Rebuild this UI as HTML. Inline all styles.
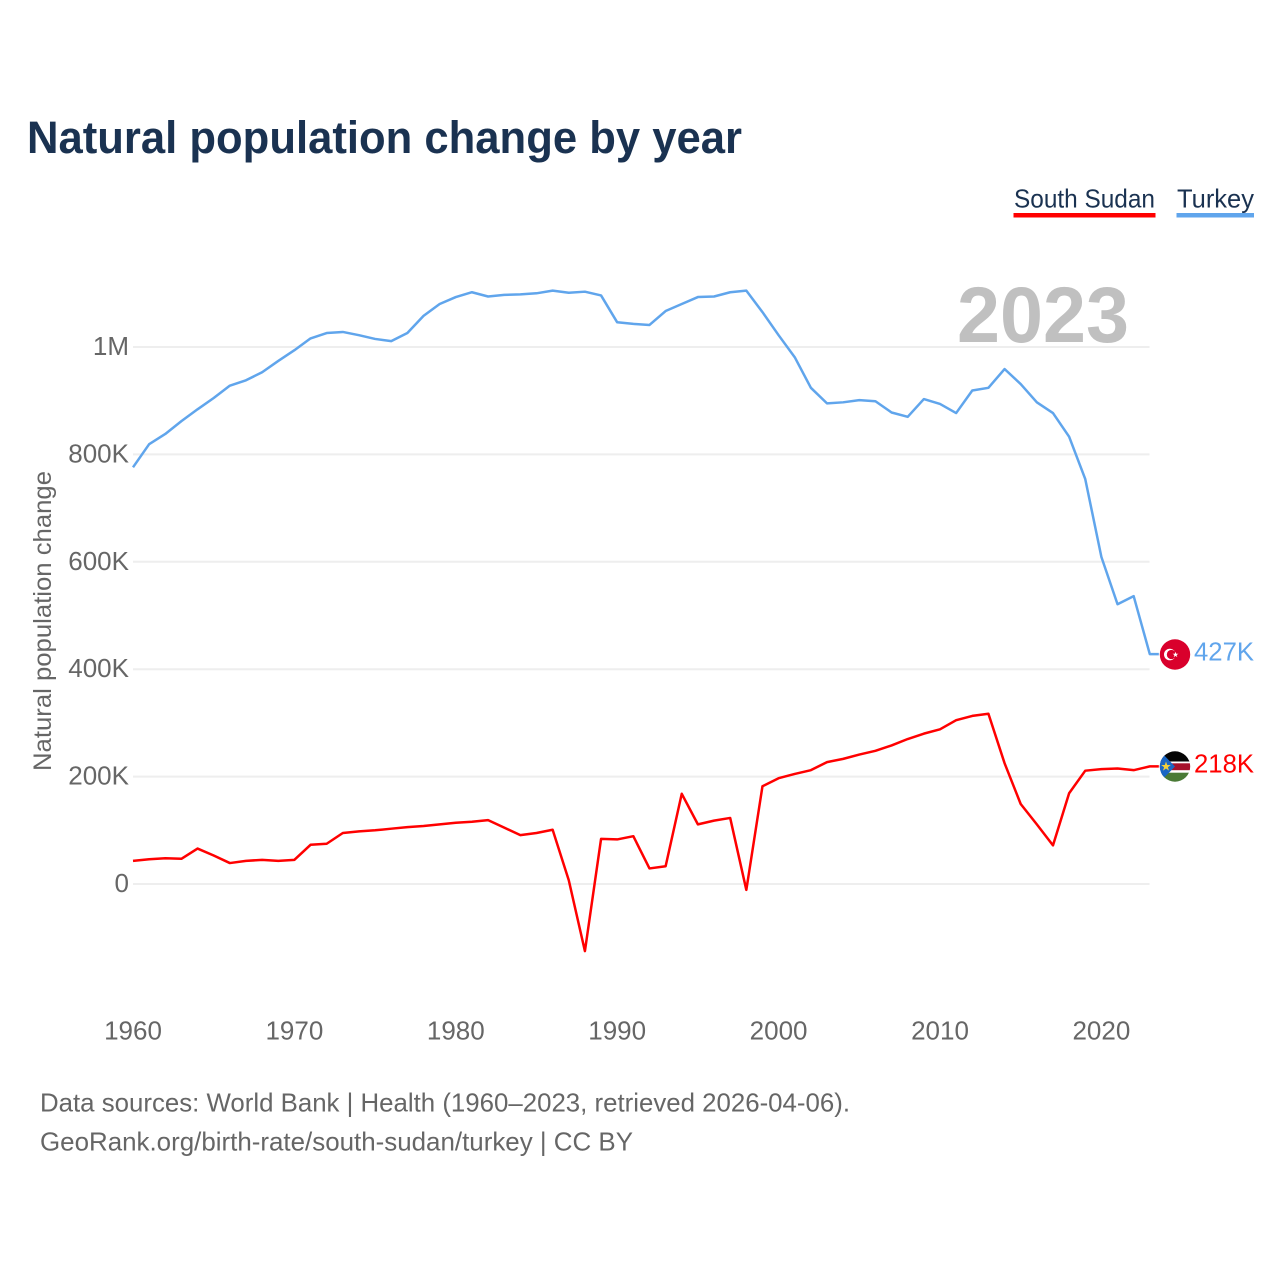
<!DOCTYPE html>
<html lang="en">
<head>
<meta charset="utf-8">
<title>Natural population change by year</title>
<style>
html,body{margin:0;padding:0;background:#fff;width:1280px;height:1280px;overflow:hidden}
svg{display:block;font-family:"Liberation Sans",sans-serif}
</style>
</head>
<body>
<svg id="chart" width="1280" height="1280" viewBox="0 0 1280 1280" xmlns="http://www.w3.org/2000/svg">
  <defs>
    <clipPath id="flag-clip-tr"><circle cx="1175" cy="654.5" r="15.2"/></clipPath>
    <clipPath id="flag-clip-ss"><circle cx="1175" cy="766.5" r="15.2"/></clipPath>
  </defs>
  <text x="27" y="153" font-size="45" font-weight="700" fill="#1a3251" textLength="715" lengthAdjust="spacingAndGlyphs">Natural population change by year</text>

  <text x="1014" y="207.5" font-size="26" fill="#1a3251" textLength="141" lengthAdjust="spacingAndGlyphs">South Sudan</text>
  <rect x="1013.5" y="213" width="142" height="4.5" fill="#ff0000"/>
  <text x="1177" y="207.5" font-size="26" fill="#1a3251" textLength="77" lengthAdjust="spacingAndGlyphs">Turkey</text>
  <rect x="1176.5" y="213" width="77.5" height="4.5" fill="#60a5ec"/>

  <g id="grid"></g>
  <g id="y-ticks"></g>
  <g id="x-ticks"></g>

  <text x="957" y="342" font-size="79" font-weight="700" fill="#c0c0c0" textLength="172" lengthAdjust="spacingAndGlyphs">2023</text>

  <text transform="translate(51,771) rotate(-90)" font-size="25" fill="#666666" textLength="300" lengthAdjust="spacingAndGlyphs">Natural population change</text>

  <g id="series"></g>

  <g clip-path="url(#flag-clip-tr)">
    <rect x="1158" y="637" width="34" height="36" fill="#d9002c"/>
    <circle cx="1169.8" cy="654.5" r="5.8" fill="#ffffff"/>
    <circle cx="1171.4" cy="654.5" r="4.6" fill="#d9002c"/>
    <polygon points="1175.5,651.7 1176.2,653.8 1178.4,653.8 1176.6,655 1177.3,657.1 1175.5,655.9 1173.7,657.1 1174.4,655 1172.6,653.8 1174.8,653.8" fill="#ffffff"/>
  </g>
  <g clip-path="url(#flag-clip-ss)">
    <rect x="1158" y="750" width="34" height="12" fill="#050505"/>
    <rect x="1158" y="761.5" width="34" height="2" fill="#ffffff"/>
    <rect x="1158" y="763.3" width="34" height="7" fill="#a6122c"/>
    <rect x="1158" y="770.3" width="34" height="2.4" fill="#ffffff"/>
    <rect x="1158" y="772.7" width="34" height="11" fill="#4a7a36"/>
    <polygon points="1158,749 1175,766.5 1158,784" fill="#1a66c4"/>
    <polygon points="1166,761.5 1167.2,765 1170.8,765 1167.9,767.2 1169,770.6 1166,768.5 1163,770.6 1164.1,767.2 1161.2,765 1164.8,765" fill="#f2cf3a"/>
  </g>

  <text x="1194" y="660.5" font-size="26" fill="#60a5ec" textLength="60" lengthAdjust="spacingAndGlyphs">427K</text>
  <text x="1194" y="772.5" font-size="26" fill="#ff0000" textLength="60" lengthAdjust="spacingAndGlyphs">218K</text>

  <text x="40" y="1111.5" font-size="26" fill="#666666" textLength="810" lengthAdjust="spacingAndGlyphs">Data sources: World Bank | Health (1960–2023, retrieved 2026-04-06).</text>
  <text x="40" y="1150.5" font-size="26" fill="#666666" textLength="593" lengthAdjust="spacingAndGlyphs">GeoRank.org/birth-rate/south-sudan/turkey | CC BY</text>
</svg>
<script>
const startYear = 1960;
const xTickYears = [1960, 1970, 1980, 1990, 2000, 2010, 2020];
const yTickValues = [0, 200, 400, 600, 800, 1000];
const yTickLabels = ["0", "200K", "400K", "600K", "800K", "1M"];
const turkeyValues = [776, 819, 838, 862, 884, 905, 928, 938, 953, 974, 994, 1016, 1026, 1028, 1022, 1015, 1011, 1026, 1058, 1080, 1093, 1102, 1094, 1097, 1098, 1100, 1105, 1101, 1103, 1096, 1046, 1043, 1041, 1067, 1080, 1093, 1094, 1102, 1105, 1065, 1022, 981, 924, 895, 897, 901, 899, 878, 870, 903, 894, 877, 919, 924, 959, 931, 897, 877, 833, 754, 609, 521, 536, 428];
const southSudanValues = [43, 46, 48, 47, 66, 53, 39, 43, 45, 43, 45, 73, 75, 95, 98, 100, 103, 106, 108, 111, 114, 116, 119, 105, 91, 95, 101, 7, -125, 84, 83, 89, 29, 33, 168, 111, 118, 123, -11, 182, 197, 205, 212, 227, 233, 241, 248, 258, 270, 280, 288, 305, 313, 317, 225, 149, 111, 72, 169, 211, 214, 215, 212, 219];

const NS = "http://www.w3.org/2000/svg";
function xScale(year) { return 133 + (year - 1960) * 16.14; }
function yScale(v) { return 884 - v * 0.537; }

const grid = document.getElementById("grid");
const yTicks = document.getElementById("y-ticks");
yTickValues.forEach(function (v, i) {
  const line = document.createElementNS(NS, "line");
  line.setAttribute("x1", 133);
  line.setAttribute("x2", 1149.5);
  line.setAttribute("y1", yScale(v));
  line.setAttribute("y2", yScale(v));
  line.setAttribute("stroke", "#eeeeee");
  line.setAttribute("stroke-width", "2");
  
  
  grid.appendChild(line);

  const t = document.createElementNS(NS, "text");
  t.setAttribute("x", 129);
  t.setAttribute("y", yScale(v) + 8);
  t.setAttribute("text-anchor", "end");
  t.setAttribute("font-size", "26");
  t.setAttribute("fill", "#666666");
  
  
  t.textContent = yTickLabels[i];
  yTicks.appendChild(t);
});

const xTicks = document.getElementById("x-ticks");
xTickYears.forEach(function (yr) {
  const t = document.createElementNS(NS, "text");
  t.setAttribute("x", xScale(yr));
  t.setAttribute("y", 1039.5);
  t.setAttribute("text-anchor", "middle");
  t.setAttribute("font-size", "26");
  t.setAttribute("fill", "#666666");
  
  
  t.textContent = String(yr);
  xTicks.appendChild(t);
});

function seriesPath(values) {
  let d = "";
  values.forEach(function (v, i) {
    d += (i ? "L" : "M") + xScale(startYear + i).toFixed(2) + " " + yScale(v).toFixed(2);
  });
  const last = values[values.length - 1];
  d += "L" + (xScale(startYear + values.length - 1) + 9).toFixed(2) + " " + yScale(last).toFixed(2);
  return d;
}

const series = document.getElementById("series");

const turkeyLine = document.createElementNS(NS, "path");
turkeyLine.setAttribute("d", seriesPath(turkeyValues));
turkeyLine.setAttribute("fill", "none");
turkeyLine.setAttribute("stroke", "#60a5ec");
turkeyLine.setAttribute("stroke-width", "2.5");
turkeyLine.setAttribute("stroke-linejoin", "round");


series.appendChild(turkeyLine);

const southSudanLine = document.createElementNS(NS, "path");
southSudanLine.setAttribute("d", seriesPath(southSudanValues));
southSudanLine.setAttribute("fill", "none");
southSudanLine.setAttribute("stroke", "#ff0000");
southSudanLine.setAttribute("stroke-width", "2.5");
southSudanLine.setAttribute("stroke-linejoin", "round");


series.appendChild(southSudanLine);
</script>
</body>
</html>
